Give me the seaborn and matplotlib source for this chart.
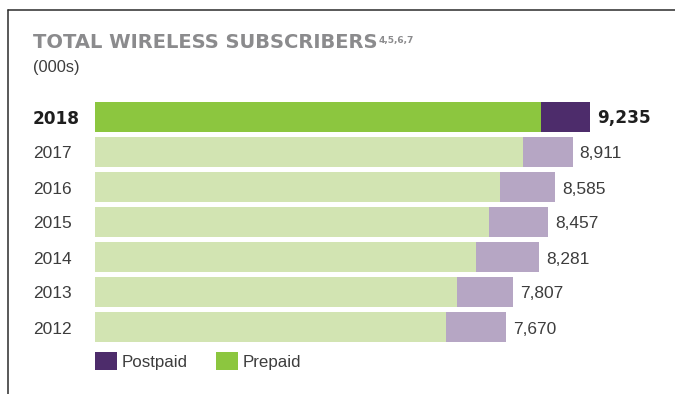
import matplotlib
matplotlib.use("Agg")
import matplotlib.pyplot as plt
import matplotlib.transforms as mtransforms
from matplotlib.lines import Line2D
from matplotlib.patches import Patch
import pandas as pd
import seaborn as sns

# Subscriber counts (thousands)
years = ["2018", "2017", "2016", "2015", "2014", "2013", "2012"]
total_subs = [9235, 8911, 8585, 8457, 8281, 7807, 7670]
prepaid_subs = [8320, 7980, 7550, 7345, 7105, 6750, 6545]
value_labels = ["9,235", "8,911", "8,585", "8,457", "8,281", "7,807", "7,670"]
series_names = ["Postpaid", "Prepaid"]

POST_DARK, POST_LIGHT = "#4d2c6b", "#b6a6c4"
PRE_DARK, PRE_LIGHT = "#8cc63f", "#d2e4b2"
TITLE_GREY = "#8b8b8d"
TEXT = "#3d3d3d"

df = pd.DataFrame({"year": years, "total": total_subs, "prepaid": prepaid_subs})

W, H = 675, 394
sns.set_theme(style="white")
plt.rcParams["font.family"] = ["Liberation Sans", "DejaVu Sans"]

fig = plt.figure(figsize=(W / 100, H / 100), dpi=100)


def fx(px):
    return px / W


def fy(py):
    return 1 - py / H


# plot area: bars start at x=95 px, one row every 35 px
ax = fig.add_axes([fx(95), fy(344.5), fx(675) - fx(95), (344.5 - 99.5) / H])

post_pal = {y: (POST_DARK if i == 0 else POST_LIGHT) for i, y in enumerate(years)}
pre_pal = {y: (PRE_DARK if i == 0 else PRE_LIGHT) for i, y in enumerate(years)}

# full bar = total (postpaid part shows at the end), prepaid drawn over it
sns.barplot(data=df, y="year", x="total", hue="year", order=years,
            palette=post_pal, legend=False, width=30 / 35, saturation=1,
            linewidth=0, ax=ax)
sns.barplot(data=df, y="year", x="prepaid", hue="year", order=years,
            palette=pre_pal, legend=False, width=30 / 35, saturation=1,
            linewidth=0, ax=ax)

ax.set_xlim(0, 580 * 18.66)
ax.set_ylim(len(years) - 0.5, -0.5)
ax.set_axis_off()

px2pt = 72 / 100
year_tr = mtransforms.blended_transform_factory(fig.transFigure, ax.transData)
for i, (yr, tot, lab) in enumerate(zip(years, total_subs, value_labels)):
    bold = i == 0
    kw = dict(family="DejaVu Sans", weight="bold", color="#1e1e1e", size=12.2) if bold \
        else dict(color=TEXT, size=12.5)
    ax.annotate(yr, xy=(fx(33), i), xycoords=year_tr,
                xytext=(0, -6.5 * px2pt), textcoords="offset points",
                ha="left", va="baseline", **kw)
    ax.annotate(lab, xy=(tot, i), xycoords="data",
                xytext=(7 * px2pt, -6.5 * px2pt), textcoords="offset points",
                ha="left", va="baseline", **kw)

# heading
title = fig.text(fx(33), fy(48), "TOTAL WIRELESS SUBSCRIBERS", family="DejaVu Sans",
                 weight="bold", size=14, color=TITLE_GREY, ha="left", va="baseline")
fig.text(0, 0, "")
ax.annotate("4,5,6,7", xy=(1, 1), xycoords=title, xytext=(1, -2),
            textcoords="offset points", ha="left", va="top",
            family="DejaVu Sans", weight="bold", size=6.5, color=TITLE_GREY)
fig.text(fx(33), fy(72), "(000s)", size=11.8, color=TEXT, ha="left", va="baseline")

# frame
fig.add_artist(Line2D([fx(8), 1], [fy(10), fy(10)], transform=fig.transFigure,
                      color="#2b2b2b", lw=1.1))
fig.add_artist(Line2D([fx(8), fx(8)], [fy(10), 0], transform=fig.transFigure,
                      color="#2b2b2b", lw=1.1))

# legend
handles = [Patch(facecolor=POST_DARK, edgecolor="none"),
           Patch(facecolor=PRE_DARK, edgecolor="none")]
fig.legend(handles, series_names, loc="upper left", bbox_to_anchor=(fx(95), fy(352)),
           ncol=2, frameon=False, fontsize=12.2, labelcolor=TEXT,
           handlelength=22 / 17, handleheight=22 / 17, handletextpad=5 / 17,
           columnspacing=28 / 17, borderpad=0, borderaxespad=0)

fig.savefig("out.png", dpi=100)
